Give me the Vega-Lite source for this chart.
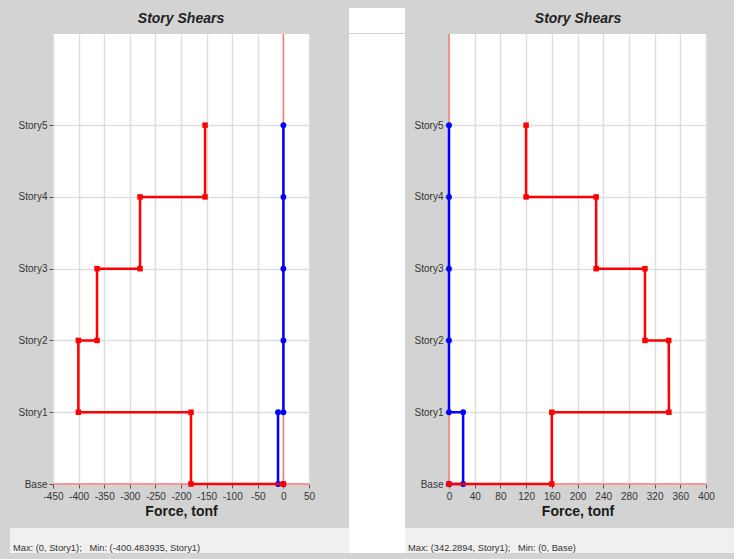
{
  "$schema": "https://vega.github.io/schema/vega-lite/v6.json",
  "background": "#d3d3d3",
  "padding": {"left": 10, "top": 8, "right": 0, "bottom": 7},
  "spacing": 0,
  "datasets": {
    "left": [
      {"s": "Y", "f": 0, "lvl": 5, "k": 1},
      {"s": "Y", "f": 0, "lvl": 4, "k": 2},
      {"s": "Y", "f": 0, "lvl": 3, "k": 3},
      {"s": "Y", "f": 0, "lvl": 2, "k": 4},
      {"s": "Y", "f": 0, "lvl": 1, "k": 5},
      {"s": "Y", "f": -10.5, "lvl": 1, "k": 6},
      {"s": "Y", "f": -10.5, "lvl": 0, "k": 7},
      {"s": "Y", "f": 0, "lvl": 0, "k": 8},
      {"s": "X", "f": -153, "lvl": 5, "k": 1},
      {"s": "X", "f": -153, "lvl": 4, "k": 2},
      {"s": "X", "f": -280, "lvl": 4, "k": 3},
      {"s": "X", "f": -280, "lvl": 3, "k": 4},
      {"s": "X", "f": -364, "lvl": 3, "k": 5},
      {"s": "X", "f": -364, "lvl": 2, "k": 6},
      {"s": "X", "f": -400.483935, "lvl": 2, "k": 7},
      {"s": "X", "f": -400.483935, "lvl": 1, "k": 8},
      {"s": "X", "f": -180.5, "lvl": 1, "k": 9},
      {"s": "X", "f": -180.5, "lvl": 0, "k": 10},
      {"s": "X", "f": 0, "lvl": 0, "k": 11}
    ],
    "right": [
      {"s": "Y", "f": 0, "lvl": 5, "k": 1},
      {"s": "Y", "f": 0, "lvl": 4, "k": 2},
      {"s": "Y", "f": 0, "lvl": 3, "k": 3},
      {"s": "Y", "f": 0, "lvl": 2, "k": 4},
      {"s": "Y", "f": 0, "lvl": 1, "k": 5},
      {"s": "Y", "f": 22, "lvl": 1, "k": 6},
      {"s": "Y", "f": 22, "lvl": 0, "k": 7},
      {"s": "Y", "f": 0, "lvl": 0, "k": 8},
      {"s": "X", "f": 120, "lvl": 5, "k": 1},
      {"s": "X", "f": 120, "lvl": 4, "k": 2},
      {"s": "X", "f": 229, "lvl": 4, "k": 3},
      {"s": "X", "f": 229, "lvl": 3, "k": 4},
      {"s": "X", "f": 305, "lvl": 3, "k": 5},
      {"s": "X", "f": 305, "lvl": 2, "k": 6},
      {"s": "X", "f": 342, "lvl": 2, "k": 7},
      {"s": "X", "f": 342.2894, "lvl": 1, "k": 8},
      {"s": "X", "f": 160, "lvl": 1, "k": 9},
      {"s": "X", "f": 160, "lvl": 0, "k": 10},
      {"s": "X", "f": 0, "lvl": 0, "k": 11}
    ],
    "titles": [{"t": "Story Shears"}],
    "footL": [{"t": "Max: (0, Story1);\u00a0\u00a0\u00a0Min: (-400.483935, Story1)"}],
    "footR": [{"t": "Max: (342.2894, Story1);\u00a0\u00a0\u00a0Min: (0, Base)"}]
  },
  "vconcat": [
    {
      "spacing": 0,
      "hconcat": [
        {
          "width": 339, "height": 25,
          "data": {"name": "titles"},
          "mark": {"type": "text", "fontSize": 14, "fontWeight": "bold", "fontStyle": "italic", "color": "#222222", "dx": 1.5, "dy": -1.5},
          "encoding": {"text": {"field": "t"}}
        },
        {
          "width": 56, "height": 25,
          "view": {"fill": "#ffffff", "stroke": null},
          "data": {"values": []}, "mark": {"type": "rect"}, "encoding": {}
        },
        {
          "width": 329, "height": 25,
          "data": {"name": "titles"},
          "mark": {"type": "text", "fontSize": 14, "fontWeight": "bold", "fontStyle": "italic", "color": "#222222", "dx": 8.5, "dy": -1.5},
          "encoding": {"text": {"field": "t"}}
        }
      ]
    },
    {
      "spacing": 0,
      "hconcat": [
        {"width": 8, "height": 1, "data": {"values": []}, "mark": {"type": "rect"}, "encoding": {}},
        {
          "width": 256,
          "height": 450,
          "view": {"fill": "#ffffff", "stroke": null},
          "data": {"name": "left"},
          "layer": [
            {
              "data": {"values": [{}]},
              "mark": {"type": "rule", "color": "#ff7878", "strokeWidth": 1.5},
              "encoding": {
                "x": {"datum": 0, "type": "quantitative", "scale": {"domain": [-450, 50], "nice": false, "zero": false}, "axis": {"values": [-450, -400, -350, -300, -250, -200, -150, -100, -50, 0, 50], "tickCount": 20, "title": "Force, tonf", "grid": true, "labelOverlap": false, "labelFlush": false, "labelExpr": "replace(datum.label, '\u2212', '-')"}}
              }
            },
            {
              "data": {"values": [{}]},
              "mark": {"type": "rule", "color": "#ff7878", "strokeWidth": 1.5},
              "encoding": {
                "y": {"datum": 0, "type": "quantitative", "scale": {"domain": [0, 6.27], "nice": false}, "axis": {"values": [0, 1, 2, 3, 4, 5], "tickCount": 20, "title": null, "grid": true, "labelExpr": "['Base','Story1','Story2','Story3','Story4','Story5'][datum.value]"}}
              }
            },
            {
              "transform": [{"filter": "datum.s === 'Y'"}],
              "mark": {"type": "line", "color": "#0000ff", "strokeWidth": 2.5},
              "encoding": {
                "x": {"field": "f", "type": "quantitative", "scale": {"domain": [-450, 50], "nice": false, "zero": false}, "axis": {"values": [-450, -400, -350, -300, -250, -200, -150, -100, -50, 0, 50], "tickCount": 20, "title": "Force, tonf", "grid": true, "labelOverlap": false, "labelFlush": false, "labelExpr": "replace(datum.label, '\u2212', '-')"}},
                "y": {"field": "lvl", "type": "quantitative", "scale": {"domain": [0, 6.27], "nice": false}, "axis": {"values": [0, 1, 2, 3, 4, 5], "tickCount": 20, "title": null, "grid": true, "labelExpr": "['Base','Story1','Story2','Story3','Story4','Story5'][datum.value]"}},
                "order": {"field": "k"}
              }
            },
            {
              "transform": [{"filter": "datum.s === 'Y'"}],
              "mark": {"type": "point", "shape": "circle", "filled": true, "opacity": 1, "color": "#0000ff", "size": 34},
              "encoding": {
                "x": {"field": "f", "type": "quantitative"},
                "y": {"field": "lvl", "type": "quantitative"}
              }
            },
            {
              "transform": [{"filter": "datum.s === 'X'"}],
              "mark": {"type": "line", "color": "#ff0000", "strokeWidth": 2.5},
              "encoding": {
                "x": {"field": "f", "type": "quantitative"},
                "y": {"field": "lvl", "type": "quantitative"},
                "order": {"field": "k"}
              }
            },
            {
              "transform": [{"filter": "datum.s === 'X'"}],
              "mark": {"type": "point", "shape": "square", "filled": true, "opacity": 1, "color": "#ff0000", "size": 30},
              "encoding": {
                "x": {"field": "f", "type": "quantitative"},
                "y": {"field": "lvl", "type": "quantitative"}
              }
            }
          ]
        },
        {"width": 34, "height": 1, "data": {"values": []}, "mark": {"type": "rect"}, "encoding": {}},
        {
          "width": 56, "height": 494,
          "view": {"fill": "#ffffff", "stroke": null},
          "data": {"values": []}, "mark": {"type": "rect"}, "encoding": {}
        },
        {"width": 9, "height": 1, "data": {"values": []}, "mark": {"type": "rect"}, "encoding": {}},
        {
          "width": 257,
          "height": 450,
          "view": {"fill": "#ffffff", "stroke": null},
          "data": {"name": "right"},
          "layer": [
            {
              "data": {"values": [{}]},
              "mark": {"type": "rule", "color": "#ff7878", "strokeWidth": 1.5},
              "encoding": {
                "x": {"datum": 0, "type": "quantitative", "scale": {"domain": [0, 400], "nice": false, "zero": false}, "axis": {"values": [0, 40, 80, 120, 160, 200, 240, 280, 320, 360, 400], "tickCount": 20, "title": "Force, tonf", "grid": true, "labelOverlap": false, "labelFlush": false}}
              }
            },
            {
              "data": {"values": [{}]},
              "mark": {"type": "rule", "color": "#ff7878", "strokeWidth": 1.5},
              "encoding": {
                "y": {"datum": 0, "type": "quantitative", "scale": {"domain": [0, 6.27], "nice": false}, "axis": {"values": [0, 1, 2, 3, 4, 5], "tickCount": 20, "title": null, "grid": true, "labelExpr": "['Base','Story1','Story2','Story3','Story4','Story5'][datum.value]"}}
              }
            },
            {
              "transform": [{"filter": "datum.s === 'Y'"}],
              "mark": {"type": "line", "color": "#0000ff", "strokeWidth": 2.5},
              "encoding": {
                "x": {"field": "f", "type": "quantitative", "scale": {"domain": [0, 400], "nice": false, "zero": false}, "axis": {"values": [0, 40, 80, 120, 160, 200, 240, 280, 320, 360, 400], "tickCount": 20, "title": "Force, tonf", "grid": true, "labelOverlap": false, "labelFlush": false}},
                "y": {"field": "lvl", "type": "quantitative", "scale": {"domain": [0, 6.27], "nice": false}, "axis": {"values": [0, 1, 2, 3, 4, 5], "tickCount": 20, "title": null, "grid": true, "labelExpr": "['Base','Story1','Story2','Story3','Story4','Story5'][datum.value]"}},
                "order": {"field": "k"}
              }
            },
            {
              "transform": [{"filter": "datum.s === 'Y'"}],
              "mark": {"type": "point", "shape": "circle", "filled": true, "opacity": 1, "color": "#0000ff", "size": 34},
              "encoding": {
                "x": {"field": "f", "type": "quantitative"},
                "y": {"field": "lvl", "type": "quantitative"}
              }
            },
            {
              "transform": [{"filter": "datum.s === 'X'"}],
              "mark": {"type": "line", "color": "#ff0000", "strokeWidth": 2.5},
              "encoding": {
                "x": {"field": "f", "type": "quantitative"},
                "y": {"field": "lvl", "type": "quantitative"},
                "order": {"field": "k"}
              }
            },
            {
              "transform": [{"filter": "datum.s === 'X'"}],
              "mark": {"type": "point", "shape": "square", "filled": true, "opacity": 1, "color": "#ff0000", "size": 30},
              "encoding": {
                "x": {"field": "f", "type": "quantitative"},
                "y": {"field": "lvl", "type": "quantitative"}
              }
            }
          ]
        }
      ]
    },
    {
      "spacing": 0,
      "hconcat": [
        {
          "width": 339,
          "height": 25,
          "view": {"fill": "#f0f0f0", "stroke": null},
          "data": {"name": "footL"},
          "mark": {"type": "text", "align": "left", "baseline": "middle", "fontSize": 9.3, "color": "#333333", "dx": 3, "dy": 7},
          "encoding": {
            "text": {"field": "t"},
            "x": {"datum": 0, "type": "quantitative", "scale": {"domain": [0, 1]}, "axis": null}
          }
        },
        {
          "width": 56, "height": 25,
          "view": {"fill": "#ffffff", "stroke": null},
          "data": {"values": []}, "mark": {"type": "rect"}, "encoding": {}
        },
        {
          "width": 329,
          "height": 25,
          "view": {"fill": "#f0f0f0", "stroke": null},
          "data": {"name": "footR"},
          "mark": {"type": "text", "align": "left", "baseline": "middle", "fontSize": 9.3, "color": "#333333", "dx": 3, "dy": 7},
          "encoding": {
            "text": {"field": "t"},
            "x": {"datum": 0, "type": "quantitative", "scale": {"domain": [0, 1]}, "axis": null}
          }
        }
      ]
    }
  ],
  "config": {
    "font": "Liberation Sans",
    "view": {"stroke": null},
    "axis": {
      "labelFont": "Liberation Sans",
      "labelFontSize": 10,
      "labelColor": "#333333",
      "tickColor": "#555555",
      "tickSize": 4,
      "domain": false,
      "grid": true,
      "gridColor": "#dedede",
      "gridWidth": 1.5,
      "labelOverlap": false,
      "titleFont": "Liberation Sans",
      "titleFontSize": 14,
      "titleFontWeight": "bold",
      "titleColor": "#1a1a1a"
    },
    "axisX": {"labelPadding": 3, "titlePadding": 3, "labelFlush": false, "labelOverlap": false},
    "axisY": {"labelPadding": 2}
  }
}
